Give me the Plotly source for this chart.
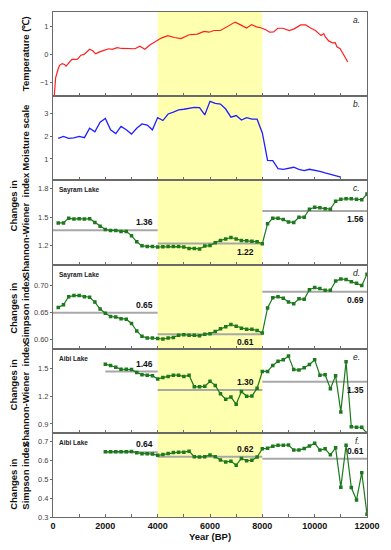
import plotly.graph_objects as go
from plotly.subplots import make_subplots

# ---------------- data ----------------
temp_years = [40, 100, 190, 250, 350, 440, 500, 630, 720, 815, 940, 1065, 1190, 1400, 1530, 1630, 1755, 1945,
              2130, 2260, 2450, 2630, 2885, 3135, 3320, 3510, 3700, 3890, 4140, 4390, 4640, 4890, 5205, 5520,
              5770, 5960, 6150, 6400, 6710, 6960, 7150, 7400, 7590, 7775, 7965, 8150, 8275, 8430, 8590, 8780,
              9030, 9215, 9470, 9655, 9845, 10030, 10160, 10245, 10345, 10410, 10535, 10685, 10785, 10850,
              10975, 11100, 11265]
temperature = [-1.6, -0.85, -0.55, -0.4, -0.34, -0.37, -0.43, -0.31, -0.19, -0.19, -0.18, -0.04, -0.01, 0.17,
               0.11, 0.01, 0.07, 0.13, 0.19, 0.17, 0.23, 0.2, 0.2, 0.19, 0.28, 0.17, 0.32, 0.44, 0.57, 0.66,
               0.59, 0.55, 0.69, 0.71, 0.81, 0.78, 0.84, 0.84, 1.0, 1.14, 1.05, 0.93, 1.05, 0.97, 0.93, 0.86,
               0.78, 0.79, 0.92, 0.92, 0.84, 0.9, 1.04, 1.04, 0.93, 0.84, 0.73, 0.66, 0.73, 0.61, 0.47, 0.4,
               0.41, 0.26, 0.19, -0.01, -0.28]

moist_years = [200, 400, 600, 800, 1000, 1200, 1400, 1600, 1800, 2000, 2200, 2400, 2600, 2800, 3000, 3200,
               3400, 3600, 3800, 4000, 4200, 4400, 4600, 4800, 5000, 5200, 5400, 5600, 5800, 6000, 6200, 6400,
               6600, 6800, 7000, 7200, 7400, 7600, 7800, 8000, 8200, 8400, 8600, 8800, 9000, 9200, 9400, 9600,
               9800, 10000, 10200, 10400, 10600, 10800, 11000]
moisture = [1.91, 2.0, 1.91, 1.93, 2.0, 1.94, 2.36, 2.2, 2.63, 2.79, 2.29, 2.12, 2.44, 2.29, 2.1, 2.36, 2.55,
            2.5, 2.29, 2.83, 2.7, 2.99, 3.07, 3.17, 3.2, 3.24, 3.28, 3.27, 2.95, 3.55, 3.46, 3.43, 3.21, 2.85,
            2.92, 2.72, 2.83, 2.76, 2.76, 2.15, 0.93, 0.92, 0.57, 0.54, 0.57, 0.63, 0.54, 0.48, 0.54, 0.5,
            0.45, 0.38, 0.31, 0.23, 0.19]

sayram_years = [200, 400, 600, 800, 1000, 1200, 1400, 1600, 1800, 2000, 2200, 2400, 2600, 2800, 3000, 3200,
                3400, 3600, 3800, 4000, 4200, 4400, 4600, 4800, 5000, 5200, 5400, 5600, 5800, 6000, 6200,
                6400, 6600, 6800, 7000, 7200, 7400, 7600, 7800, 8000, 8200, 8400, 8600, 8800, 9000, 9200,
                9400, 9600, 9800, 10000, 10200, 10400, 10600, 10800, 11000, 11200, 11400, 11600, 11800, 12000]
sayram_shannon = [1.44, 1.44, 1.49, 1.48, 1.485, 1.48, 1.485, 1.445, 1.405, 1.37, 1.36, 1.36, 1.35, 1.35,
                  1.305, 1.24, 1.197, 1.19, 1.19, 1.185,
                  1.187, 1.19, 1.19, 1.19, 1.185, 1.17, 1.17, 1.165, 1.195, 1.2, 1.23, 1.255, 1.27, 1.285,
                  1.27, 1.255, 1.25, 1.245, 1.24, 1.22,
                  1.43, 1.49, 1.49, 1.475, 1.45, 1.445, 1.5, 1.5, 1.585, 1.605, 1.6, 1.59, 1.585, 1.67, 1.69,
                  1.695, 1.695, 1.69, 1.685, 1.745]
sayram_simpson = [0.659, 0.664, 0.679, 0.681, 0.681, 0.679, 0.678, 0.669, 0.656, 0.648, 0.642, 0.641, 0.638,
                  0.637, 0.629, 0.615, 0.605, 0.602, 0.602, 0.601,
                  0.600, 0.602, 0.603, 0.607, 0.608, 0.607, 0.607, 0.606, 0.609, 0.610, 0.614, 0.619, 0.623,
                  0.627, 0.624, 0.620, 0.618, 0.618, 0.616, 0.611,
                  0.658, 0.677, 0.679, 0.676, 0.669, 0.666, 0.675, 0.674, 0.692, 0.696, 0.694, 0.691, 0.691,
                  0.708, 0.712, 0.711, 0.707, 0.704, 0.700, 0.721]

aibi_years = [2000, 2200, 2400, 2600, 2800, 3000, 3200, 3400, 3600, 3800, 4000, 4200, 4400, 4600, 4800, 5000,
              5200, 5400, 5600, 5800, 6000, 6200, 6400, 6600, 6800, 7000, 7200, 7400, 7600, 7800, 8000, 8200,
              8400, 8600, 8800, 9000, 9200, 9400, 9600, 9800, 10000, 10200, 10400, 10600, 10800, 11000,
              11200, 11400, 11600, 11800, 12000]
aibi_shannon = [1.543, 1.53, 1.51, 1.49, 1.49, 1.485, 1.455, 1.43, 1.425, 1.42, 1.385, 1.4, 1.41, 1.425,
                1.425, 1.41, 1.425, 1.3, 1.3, 1.305, 1.36, 1.315, 1.225, 1.165, 1.19,
                1.113, 1.25, 1.198, 1.2, 1.285, 1.465, 1.465, 1.53, 1.575, 1.59, 1.63, 1.485, 1.48, 1.505,
                1.54, 1.59, 1.425, 1.43, 1.28, 1.42, 1.03, 1.57, 0.87, 0.865, 0.865, 0.80]
aibi_simpson = [0.647, 0.647, 0.647, 0.647, 0.647, 0.649, 0.642, 0.637, 0.637, 0.635, 0.628, 0.633, 0.638,
                0.643, 0.645, 0.645, 0.650, 0.621, 0.619, 0.621, 0.630, 0.621, 0.603, 0.593, 0.597,
                0.576, 0.612, 0.600, 0.602, 0.619, 0.663, 0.666, 0.677, 0.682, 0.682, 0.683, 0.657, 0.656,
                0.664, 0.678, 0.692, 0.656, 0.663, 0.631, 0.668, 0.459, 0.682, 0.457, 0.391, 0.536, 0.315]

# period means (drawn level) and their printed labels
sayram_seg_start = [0, 4000, 8000]
aibi_seg_start = [2000, 4000, 8000]
seg_end = [4000, 8000, 12000]
sayram_shannon_mean = [1.363, 1.221, 1.566]
sayram_shannon_label = ["1.36", "1.22", "1.56"]
sayram_simpson_mean = [0.649, 0.609, 0.688]
sayram_simpson_label = ["0.65", "0.61", "0.69"]
aibi_shannon_mean = [1.464, 1.266, 1.354]
aibi_shannon_label = ["1.46", "1.30", "1.35"]
aibi_simpson_mean = [0.645, 0.621, 0.610]
aibi_simpson_label = ["0.64", "0.62", "0.61"]

x_tick_vals = [0, 2000, 4000, 6000, 8000, 10000, 12000]
x_tick_text = ["0", "2000", "4000", "6000", "8000", "10000", "12000"]
highlight = [4000, 8000]

# ---------------- figure ----------------
FONT = "Arial, Liberation Sans, sans-serif"
GREEN = "#1c7a1c"
GRAY = "#a8a8a8"
AXC = "#6a6a6a"

fig = make_subplots(rows=6, cols=1, shared_xaxes=True, vertical_spacing=0)

fig.add_trace(go.Scatter(x=temp_years, y=temperature, mode="lines",
                         line=dict(color="#ff1f1f", width=1.2)), row=1, col=1)
fig.add_trace(go.Scatter(x=moist_years, y=moisture, mode="lines",
                         line=dict(color="#1f1fff", width=1.3)), row=2, col=1)


def mean_trace(starts, ends, levels):
    xs, ys = [], []
    for s, e, m in zip(starts, ends, levels):
        xs += [s, e, None]
        ys += [m, m, None]
    return go.Scatter(x=xs, y=ys, mode="lines", line=dict(color=GRAY, width=2))


panels = [
    (3, sayram_years, sayram_shannon, sayram_seg_start, sayram_shannon_mean, sayram_shannon_label,
     ["bottom", "top", "top"]),
    (4, sayram_years, sayram_simpson, sayram_seg_start, sayram_simpson_mean, sayram_simpson_label,
     ["bottom", "top", "top"]),
    (5, aibi_years, aibi_shannon, aibi_seg_start, aibi_shannon_mean, aibi_shannon_label,
     ["bottom", "bottom", "top"]),
    (6, aibi_years, aibi_simpson, aibi_seg_start, aibi_simpson_mean, aibi_simpson_label,
     ["bottom", "bottom", "bottom"]),
]
label_x = [3500, 7340, 11560]

annotations = []
for row, xs, ys, starts, means, labels, anchors in panels:
    fig.add_trace(mean_trace(starts, seg_end, means), row=row, col=1)
    fig.add_trace(go.Scatter(x=xs, y=ys, mode="lines+markers",
                             line=dict(color=GREEN, width=1.2),
                             marker=dict(symbol="square", size=3.5, color=GREEN),
                             cliponaxis=True), row=row, col=1)
    yref = "y" if row == 1 else f"y{row}"
    for lx, m, t, a in zip(label_x, means, labels, anchors):
        annotations.append(dict(x=lx, y=m, xref="x", yref=yref, text=f"<b>{t}</b>",
                                showarrow=False, xanchor="center", yanchor=a,
                                yshift=(1 if a == "bottom" else -1),
                                font=dict(family=FONT, size=8.5, color="#111")))

y_ranges = [[-1.5, 1.5], [0.05, 3.78], [1.0, 1.89], [0.582, 0.739], [0.805, 1.71], [0.3, 0.748]]
y_ticks = [[-1, 0, 1], [1, 2, 3], [1.2, 1.5, 1.8], [0.60, 0.65, 0.70], [0.9, 1.2, 1.5],
           [0.3, 0.4, 0.5, 0.6, 0.7]]
y_fmt = ["d", "d", ".1f", ".2f", ".1f", ".1f"]

for i in range(6):
    r = i + 1
    fig.update_yaxes(row=r, col=1, range=y_ranges[i], tickvals=y_ticks[i], tickformat=y_fmt[i],
                     showline=True, mirror=True, linecolor=AXC, linewidth=1,
                     ticks="outside", ticklen=2, tickcolor=AXC,
                     tickfont=dict(family=FONT, size=7.5, color="#444"),
                     showgrid=False, zeroline=False)
    fig.update_xaxes(row=r, col=1, range=[0, 12000], showline=True, mirror=True, linecolor=AXC,
                     linewidth=1, showgrid=False, zeroline=False,
                     ticks="inside", ticklen=3, tickcolor=AXC, tickvals=x_tick_vals, ticktext=x_tick_text,
                     minor=dict(ticks="inside", ticklen=3, dtick=1000, tickcolor=AXC, showgrid=False))

fig.update_xaxes(row=6, col=1, showticklabels=True,
                 tickfont=dict(family=FONT, size=9, color="#111", weight="bold"),
                 title=dict(text="<b>Year (BP)</b>", standoff=2,
                            font=dict(family=FONT, size=9.5, color="#111")))

# highlighted interval
fig.add_shape(type="rect", xref="x", yref="paper", x0=highlight[0], x1=highlight[1], y0=0, y1=1,
              fillcolor="#ffffb0", line=dict(width=0), layer="below")

# panel domains (paper)
doms = []
for i in range(6):
    ax = fig.layout["yaxis" if i == 0 else f"yaxis{i + 1}"]
    doms.append(ax.domain)

letters = ["a.", "b.", "c.", "d.", "e.", "f."]
for i, L in enumerate(letters):
    annotations.append(dict(x=0.985, y=doms[i][1], xref="paper", yref="paper", text=f"<i>{L}</i>",
                            showarrow=False, xanchor="right", yanchor="top", yshift=-1,
                            font=dict(family=FONT, size=8.5, color="#222")))

lakes = ["Sayram Lake", "Sayram Lake", "Aibi Lake", "Aibi Lake"]
for i, name in enumerate(lakes):
    annotations.append(dict(x=0.014, y=doms[i + 2][1], xref="paper", yref="paper", text=f"<b>{name}</b>",
                            showarrow=False, xanchor="left", yanchor="top", yshift=-4,
                            font=dict(family=FONT, size=6.5, color="#222")))

# y titles (pixel positions converted to paper)
L_PX, W_PX, T_PX, H_PX = 53, 319, 11, 508


def px2x(px):
    return (px - L_PX) / W_PX


def py2y(py):
    return 1 - (py - T_PX) / H_PX


ytitles = [
    ("Temperature (℃)", 25, 53),
    ("Moisture scale", 25, 137),
    ("Changes in", 13, 206),
    ("Shannon-Wiener  index", 25, 225),
    ("Changes in", 13, 309),
    ("Simpson index", 25, 310),
    ("Changes in", 13, 386),
    ("Shannon-Wiener  index", 25, 395),
    ("Changes in", 13, 486),
    ("Simpson index", 25, 477),
]
for t, px, py in ytitles:
    annotations.append(dict(x=px2x(px), y=py2y(py), xref="paper", yref="paper", text=f"<b>{t}</b>",
                            showarrow=False, textangle=-90, xanchor="center", yanchor="middle",
                            font=dict(family=FONT, size=9.5, color="#111")))

fig.update_layout(width=391, height=550, margin=dict(l=53, r=19, t=11, b=31),
                  paper_bgcolor="white", plot_bgcolor="rgba(0,0,0,0)", showlegend=False,
                  hovermode=False, annotations=annotations)

fig.write_html("out.html", config={"displayModeBar": False, "staticPlot": True},
               post_script="document.body.style.margin='0px';")
